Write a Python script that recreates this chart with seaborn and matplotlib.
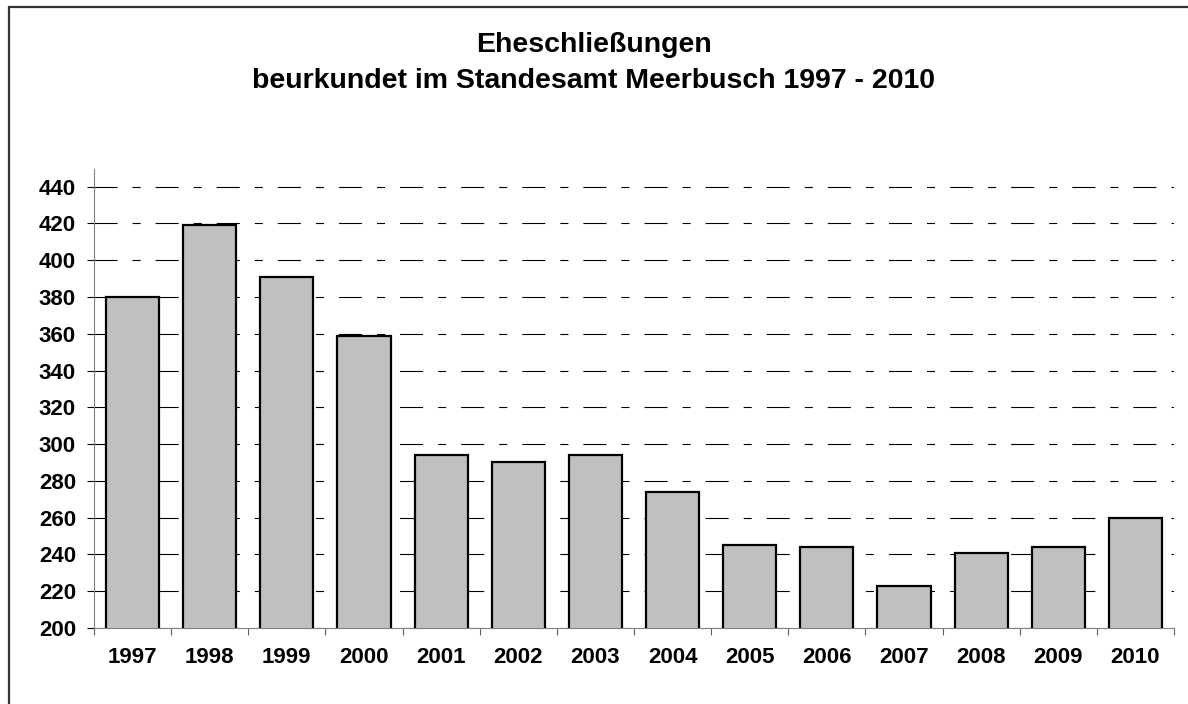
import matplotlib
matplotlib.use("Agg")
import matplotlib.pyplot as plt
import seaborn as sns
import pandas as pd
from matplotlib.patches import Rectangle

years = ['1997', '1998', '1999', '2000', '2001', '2002', '2003',
         '2004', '2005', '2006', '2007', '2008', '2009', '2010']
marriages = [380, 419, 391, 359, 294, 290, 294, 274, 245, 244, 223, 241, 244, 260]
y_ticks = list(range(200, 441, 20))

title = 'Eheschließungen\nbeurkundet im Standesamt Meerbusch 1997 - 2010'

sns.set_style('white')
plt.rcParams['font.family'] = ['Liberation Sans', 'DejaVu Sans']
plt.rcParams['lines.scale_dashes'] = False
plt.rcParams['text.color'] = 'black'
plt.rcParams['xtick.color'] = 'black'
plt.rcParams['ytick.color'] = 'black'

df = pd.DataFrame({'year': years, 'count': marriages})

fig = plt.figure(figsize=(11.88, 7.04), dpi=100)
ax = fig.add_axes([94 / 1188, 1 - 628 / 704, (1174 - 94) / 1188, (628 - 169) / 704])

sns.barplot(data=df, x='year', y='count', color='#C0C0C0', edgecolor='black',
            linewidth=1.6, width=0.69, saturation=1, ax=ax, zorder=3)

ax.set_xlim(-0.5, len(years) - 0.5)
ax.set_ylim(200, 449.6)
ax.set_yticks(y_ticks)
ax.set_xlabel('')
ax.set_ylabel('')

# dash-dot grid like the spreadsheet chart
ax.yaxis.grid(True, color='black', linewidth=0.8, linestyle=(0, (16.6, 10.8, 5.8, 10.8)))
ax.set_axisbelow(True)

# x ticks sit between the categories
ax.set_xticks([i - 0.5 for i in range(len(years) + 1)], minor=True)
ax.tick_params(axis='x', which='minor', length=5, width=0.8, color='#606060', direction='out', bottom=True)
ax.tick_params(axis='x', which='major', length=0, pad=14, labelsize=16, labelcolor='black')
ax.tick_params(axis='y', length=5, width=0.8, color='black', direction='out', left=True, pad=8,
               labelsize=16, labelcolor='black')
for lab in ax.get_xticklabels() + ax.get_yticklabels():
    lab.set_fontweight('bold')

for side in ['top', 'right']:
    ax.spines[side].set_visible(False)
for side in ['left', 'bottom']:
    ax.spines[side].set_color('#808080')
    ax.spines[side].set_linewidth(0.8)

fig.text(0.5, 1 - 63 / 704, title, ha='center', va='center', fontsize=20.5,
         fontweight='bold', linespacing=1.45, color='black')

# chart frame (right and bottom edges fall outside the image)
fig.patches.append(Rectangle((9 / 1188, -0.1), 1.2, 1 - 7 / 704 + 0.1,
                             transform=fig.transFigure, fill=False,
                             edgecolor='#333333', linewidth=1.6))

fig.savefig('out.png', dpi=100)
